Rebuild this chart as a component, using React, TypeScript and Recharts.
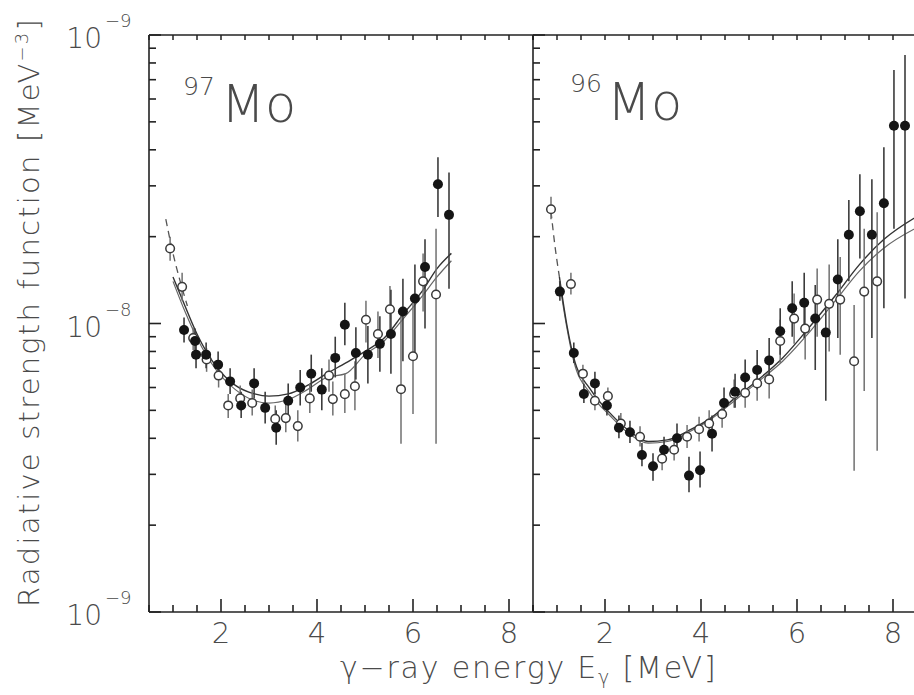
import { ComposedChart, ErrorBar, Line, Scatter, XAxis, YAxis } from "recharts";

const FONT = '"DejaVu Sans", sans-serif';
const INK = "#222";
const TEXT = "#4a4a4a";
const BAR = "#707070";

// rows: [E (MeV), f (MeV^-3), lower, upper]
const mo97Filled: [number, number, number, number][] = [
  [1.23, 9.5e-9, 8.6e-9, 1.05e-8],
  [1.46, 8.7e-9, 7.9e-9, 9.6e-9],
  [1.48, 7.8e-9, 7.0e-9, 8.6e-9],
  [1.69, 7.8e-9, 7.0e-9, 8.6e-9],
  [1.94, 7.2e-9, 6.5e-9, 8.0e-9],
  [2.19, 6.3e-9, 5.7e-9, 7.0e-9],
  [2.42, 5.2e-9, 4.7e-9, 5.8e-9],
  [2.69, 6.2e-9, 5.5e-9, 7.0e-9],
  [2.92, 5.1e-9, 4.5e-9, 5.8e-9],
  [3.15, 4.35e-9, 3.8e-9, 5.0e-9],
  [3.4, 5.4e-9, 4.7e-9, 6.2e-9],
  [3.65, 6.0e-9, 5.2e-9, 6.9e-9],
  [3.88, 6.7e-9, 5.8e-9, 7.8e-9],
  [4.1, 5.9e-9, 5.0e-9, 7.0e-9],
  [4.38, 7.6e-9, 6.5e-9, 9.0e-9],
  [4.58, 9.9e-9, 8.4e-9, 1.18e-8],
  [4.81, 7.9e-9, 6.4e-9, 9.7e-9],
  [5.06, 7.8e-9, 6.2e-9, 9.8e-9],
  [5.31, 8.5e-9, 6.8e-9, 1.06e-8],
  [5.54, 9.2e-9, 6.7e-9, 1.31e-8],
  [5.79, 1.1e-8, 7.4e-9, 1.43e-8],
  [6.04, 1.22e-8, 7.8e-9, 1.6e-8],
  [6.25, 1.57e-8, 9.6e-9, 1.96e-8],
  [6.52, 3.04e-8, 2.34e-8, 3.77e-8],
  [6.75, 2.38e-8, 1.32e-8, 3.34e-8],
];

const mo97Open: [number, number, number, number][] = [
  [0.94, 1.82e-8, 1.65e-8, 2.0e-8],
  [1.19, 1.34e-8, 1.2e-8, 1.5e-8],
  [1.42, 8.9e-9, 8.1e-9, 9.7e-9],
  [1.7, 7.5e-9, 6.8e-9, 8.2e-9],
  [1.95, 6.6e-9, 6.0e-9, 7.2e-9],
  [2.15, 5.2e-9, 4.7e-9, 5.7e-9],
  [2.4, 5.5e-9, 5.0e-9, 6.1e-9],
  [2.65, 5.3e-9, 4.8e-9, 5.9e-9],
  [3.13, 4.67e-9, 4.2e-9, 5.2e-9],
  [3.35, 4.7e-9, 4.2e-9, 5.3e-9],
  [3.6, 4.41e-9, 3.9e-9, 5.0e-9],
  [3.85, 5.5e-9, 4.9e-9, 6.2e-9],
  [4.25, 6.6e-9, 5.8e-9, 7.5e-9],
  [4.33, 5.47e-9, 4.8e-9, 6.3e-9],
  [4.58, 5.69e-9, 4.9e-9, 6.7e-9],
  [4.79, 6.06e-9, 5.0e-9, 7.4e-9],
  [5.02, 1.03e-8, 8.6e-9, 1.2e-8],
  [5.27, 9.2e-9, 7.6e-9, 1.1e-8],
  [5.52, 1.12e-8, 9.0e-9, 1.35e-8],
  [5.75, 5.92e-9, 3.83e-9, 1.07e-8],
  [6.0, 7.7e-9, 4.86e-9, 1.22e-8],
  [6.21, 1.4e-8, 1.1e-8, 1.75e-8],
  [6.48, 1.26e-8, 3.83e-9, 2.13e-8],
];

const mo96Filled: [number, number, number, number][] = [
  [1.06, 1.29e-8, 1.2e-8, 1.4e-8],
  [1.35, 7.9e-9, 7.3e-9, 8.6e-9],
  [1.56, 5.7e-9, 5.3e-9, 6.2e-9],
  [1.79, 6.2e-9, 5.7e-9, 6.8e-9],
  [2.04, 5.2e-9, 4.8e-9, 5.7e-9],
  [2.29, 4.35e-9, 4.0e-9, 4.8e-9],
  [2.52, 4.2e-9, 3.85e-9, 4.6e-9],
  [2.77, 3.5e-9, 3.2e-9, 3.85e-9],
  [3.0, 3.2e-9, 2.85e-9, 3.55e-9],
  [3.23, 3.65e-9, 3.3e-9, 4.05e-9],
  [3.5, 4.0e-9, 3.6e-9, 4.5e-9],
  [3.75, 2.97e-9, 2.6e-9, 3.45e-9],
  [3.98, 3.1e-9, 2.7e-9, 3.6e-9],
  [4.23, 4.15e-9, 3.6e-9, 4.8e-9],
  [4.48, 5.3e-9, 4.7e-9, 6.0e-9],
  [4.71, 5.8e-9, 5.1e-9, 6.7e-9],
  [4.92, 6.5e-9, 5.6e-9, 7.5e-9],
  [5.17, 6.9e-9, 5.9e-9, 8.1e-9],
  [5.42, 7.45e-9, 6.3e-9, 8.9e-9],
  [5.65, 9.4e-9, 7.8e-9, 1.13e-8],
  [5.9, 1.13e-8, 9.0e-9, 1.4e-8],
  [6.15, 1.18e-8, 8.9e-9, 1.5e-8],
  [6.38, 1.04e-8, 6.9e-9, 1.36e-8],
  [6.6, 9.3e-9, 5.4e-9, 1.19e-8],
  [6.85, 1.42e-8, 8.9e-9, 1.96e-8],
  [7.08, 2.03e-8, 1.4e-8, 2.68e-8],
  [7.31, 2.45e-8, 1.68e-8, 3.29e-8],
  [7.56, 2.03e-8, 8.9e-9, 3.16e-8],
  [7.81, 2.61e-8, 1.13e-8, 4.08e-8],
  [8.02, 4.85e-8, 2.13e-8, 7.57e-8],
  [8.25, 4.85e-8, 1.22e-8, 8.53e-8],
];

const mo96Open: [number, number, number, number][] = [
  [0.875, 2.49e-8, 2.3e-8, 2.75e-8],
  [1.29, 1.37e-8, 1.26e-8, 1.5e-8],
  [1.54, 6.7e-9, 6.2e-9, 7.2e-9],
  [1.79, 5.4e-9, 5.0e-9, 5.8e-9],
  [2.06, 5.6e-9, 5.2e-9, 6.0e-9],
  [2.33, 4.5e-9, 4.2e-9, 4.9e-9],
  [2.73, 4.05e-9, 3.75e-9, 4.4e-9],
  [3.19, 3.4e-9, 3.1e-9, 3.75e-9],
  [3.44, 3.65e-9, 3.35e-9, 4.0e-9],
  [3.71, 4.05e-9, 3.7e-9, 4.45e-9],
  [3.96, 4.3e-9, 3.9e-9, 4.75e-9],
  [4.17, 4.5e-9, 4.05e-9, 5.0e-9],
  [4.44, 4.85e-9, 4.35e-9, 5.4e-9],
  [4.69, 5.7e-9, 5.1e-9, 6.4e-9],
  [4.92, 5.75e-9, 5.1e-9, 6.5e-9],
  [5.17, 6.2e-9, 5.4e-9, 7.1e-9],
  [5.42, 6.4e-9, 5.5e-9, 7.5e-9],
  [5.65, 8.7e-9, 7.3e-9, 1.03e-8],
  [5.94, 1.04e-8, 8.5e-9, 1.27e-8],
  [6.17, 9.6e-9, 7.5e-9, 1.2e-8],
  [6.42, 1.21e-8, 9.0e-9, 1.55e-8],
  [6.67, 1.17e-8, 8.0e-9, 1.6e-8],
  [6.9, 1.21e-8, 7.8e-9, 1.7e-8],
  [7.19, 7.4e-9, 3.09e-9, 1.16e-8],
  [7.4, 1.29e-8, 5.83e-9, 2.13e-8],
  [7.67, 1.4e-8, 3.62e-9, 2.43e-8],
];

// model curves
const mo97FitX = [1.0, 1.25, 1.5, 1.9, 2.3, 2.7, 3.0, 3.4, 3.8, 4.2, 4.6, 5.0, 5.4, 5.8, 6.2, 6.5, 6.8];
const mo97FitA = [1.45e-8, 1.15e-8, 9.2e-9, 7.1e-9, 6.1e-9, 5.7e-9, 5.6e-9, 5.7e-9, 6.1e-9, 6.7e-9, 7.3e-9, 8.0e-9, 8.9e-9, 1.08e-8, 1.3e-8, 1.55e-8, 1.75e-8];
const mo97FitB = [1.4e-8, 1.1e-8, 8.9e-9, 6.9e-9, 5.9e-9, 5.4e-9, 5.3e-9, 5.45e-9, 5.9e-9, 6.5e-9, 6.7e-9, 7.8e-9, 8.7e-9, 1.04e-8, 1.25e-8, 1.45e-8, 1.65e-8];
const mo97DashX = [0.85, 1.0, 1.15, 1.3];
const mo97DashY = [2.3e-8, 1.75e-8, 1.4e-8, 1.15e-8];

const mo96FitX = [1.05, 1.2, 1.35, 1.7, 2.1, 2.5, 2.9, 3.3, 3.8, 4.2, 4.7, 5.2, 5.7, 6.3, 6.8, 7.3, 7.8, 8.5];
const mo96FitA = [1.45e-8, 1.0e-8, 7.6e-9, 5.9e-9, 4.9e-9, 4.25e-9, 3.9e-9, 3.95e-9, 4.3e-9, 4.7e-9, 5.5e-9, 6.4e-9, 7.6e-9, 9.9e-9, 1.25e-8, 1.6e-8, 1.95e-8, 2.35e-8];
const mo96FitB = [1.4e-8, 9.8e-9, 7.4e-9, 5.7e-9, 4.8e-9, 4.15e-9, 3.85e-9, 3.9e-9, 4.25e-9, 4.65e-9, 5.4e-9, 6.3e-9, 7.4e-9, 9.5e-9, 1.2e-8, 1.52e-8, 1.82e-8, 2.15e-8];
const mo96DashX = [0.875, 0.95, 1.05];
const mo96DashY = [2.45e-8, 1.9e-8, 1.45e-8];

// axes
const xTicks = [0.5, 1, 1.5, 2, 2.5, 3, 3.5, 4, 4.5, 5, 5.5, 6, 6.5, 7, 7.5, 8, 8.5];
const xLabelTicks = [2, 4, 6, 8];
const yTicks = [
  1e-9, 2e-9, 3e-9, 4e-9, 5e-9, 6e-9, 7e-9, 8e-9, 9e-9,
  1e-8, 2e-8, 3e-8, 4e-8, 5e-8, 6e-8, 7e-8, 8e-8, 9e-8, 1e-7,
];
const yDecades = [1e-9, 1e-8, 1e-7];
const yDecadeLabels = ["−9", "−8", "−9"];

const toPoints = (rows: [number, number, number, number][]) =>
  rows.map(([x, y, lo, hi]) => ({ x, y, err: [y - lo, hi - y] }));
const toLine = (xs: number[], ys: number[]) => xs.map((x, i) => ({ x, y: ys[i] }));

function YTick(props: any) {
  const { x, y, payload, labelled } = props;
  const v = payload.value;
  const di = yDecades.findIndex((d) => Math.abs(d - v) / d < 1e-6);
  const len = di >= 0 ? 12 : 7;
  return (
    <g>
      <path d={`M${x},${y}h${len}`} stroke={INK} strokeWidth={1.6} fill="none" />
      {labelled && di >= 0 && (
        <g fill={TEXT} fontFamily={FONT} fontWeight={200}>
          <text x={x - 47} y={y + 13} textAnchor="end" fontSize={28}>10</text>
          <text x={x - 44} y={y - 8} fontSize={18}>{yDecadeLabels[di]}</text>
        </g>
      )}
    </g>
  );
}

function XTick(props: any) {
  const { x, y, payload, top } = props;
  const v = payload.value;
  const major = xLabelTicks.includes(v);
  if (top) {
    return <path d={`M${x},${y}v5`} stroke={INK} strokeWidth={1.5} fill="none" />;
  }
  return (
    <g>
      <path d={`M${x},${y}v${major ? -13 : -7}`} stroke={INK} strokeWidth={1.6} fill="none" />
      {major && (
        <text x={x} y={y + 31} textAnchor="middle" fontSize={29} fontFamily={FONT} fontWeight={200} fill={TEXT}>
          {v}
        </text>
      )}
    </g>
  );
}

const FilledDot = (p: any) => <circle cx={p.cx} cy={p.cy} r={5} fill="#151515" />;
const OpenDot = (p: any) => (
  <circle cx={p.cx} cy={p.cy} r={4.3} fill="#fff" stroke="#3a3a3a" strokeWidth={1.5} />
);

function Panel(props: any) {
  const { width, margin, filled, open, fitA, fitB, dash, labelled } = props;
  return (
    <ComposedChart width={width} height={695} margin={margin}>
      <XAxis
        xAxisId="b"
        type="number"
        dataKey="x"
        domain={[0.5, 8.5]}
        ticks={xTicks}
        interval={0}
        allowDataOverflow
        height={40}
        tickSize={0}
        tickMargin={0}
        tickLine={false}
        axisLine={{ stroke: INK, strokeWidth: 1.6 }}
        tick={(p: any) => <XTick {...p} />}
      />
      <XAxis
        xAxisId="t"
        orientation="top"
        type="number"
        dataKey="x"
        domain={[0.5, 8.5]}
        ticks={xTicks}
        interval={0}
        allowDataOverflow
        height={1}
        tickSize={0}
        tickMargin={0}
        tickLine={false}
        axisLine={{ stroke: INK, strokeWidth: 1.4 }}
        tick={(p: any) => <XTick {...p} top />}
      />
      <YAxis
        type="number"
        dataKey="y"
        scale="log"
        domain={[1e-9, 1e-7]}
        ticks={yTicks}
        interval={0}
        allowDataOverflow
        width={60}
        tickSize={0}
        tickMargin={0}
        tickLine={false}
        axisLine={{ stroke: INK, strokeWidth: 1.6 }}
        tick={(p: any) => <YTick {...p} labelled={labelled} />}
      />
      <Line xAxisId="b" data={dash} dataKey="y" type="monotone" dot={false} stroke="#555" strokeWidth={1.3} strokeDasharray="7 5" isAnimationActive={false} />
      <Line xAxisId="b" data={fitB} dataKey="y" type="monotone" dot={false} stroke="#666" strokeWidth={1.2} isAnimationActive={false} />
      <Line xAxisId="b" data={fitA} dataKey="y" type="monotone" dot={false} stroke="#333" strokeWidth={1.4} isAnimationActive={false} />
      <Scatter xAxisId="b" data={open} dataKey="y" shape={OpenDot} isAnimationActive={false}>
        <ErrorBar dataKey="err" direction="y" width={0} stroke={BAR} strokeWidth={1.5} isAnimationActive={false} />
      </Scatter>
      <Scatter xAxisId="b" data={filled} dataKey="y" shape={FilledDot} isAnimationActive={false}>
        <ErrorBar dataKey="err" direction="y" width={0} stroke="#3c3c3c" strokeWidth={1.6} isAnimationActive={false} />
      </Scatter>
    </ComposedChart>
  );
}

export default function App() {
  return (
    <div style={{ position: "fixed", left: 0, top: 0, width: 914, height: 695, overflow: "hidden", background: "#fff" }}>
      <div style={{ position: "absolute", left: 0, top: 0 }}>
        <Panel
          width={540}
          margin={{ top: 34, right: 7, bottom: 43, left: 89 }}
          filled={toPoints(mo97Filled)}
          open={toPoints(mo97Open)}
          fitA={toLine(mo97FitX, mo97FitA)}
          fitB={toLine(mo97FitX, mo97FitB)}
          dash={toLine(mo97DashX, mo97DashY)}
          labelled
        />
      </div>
      <div style={{ position: "absolute", left: 473, top: 0 }}>
        <Panel
          width={449}
          margin={{ top: 34, right: 5, bottom: 43, left: 0 }}
          filled={toPoints(mo96Filled)}
          open={toPoints(mo96Open)}
          fitA={toLine(mo96FitX, mo96FitA)}
          fitB={toLine(mo96FitX, mo96FitB)}
          dash={toLine(mo96DashX, mo96DashY)}
          labelled={false}
        />
      </div>
      <svg width={914} height={695} style={{ position: "absolute", left: 0, top: 0, pointerEvents: "none" }}>
        <g fill={TEXT} fontFamily={FONT} fontWeight={200}>
          <text transform="translate(39,312) rotate(-90)" textAnchor="middle" fontSize={29} letterSpacing={2.2}>
            Radiative strength function [MeV<tspan dy={-11} fontSize={18}>−3</tspan><tspan dy={11}>]</tspan>
          </text>
          <text x={340} y={678} fontSize={30} letterSpacing={1.8}>
            γ−ray energy E<tspan dy={6} fontSize={19}>γ</tspan><tspan dy={-6}> [MeV]</tspan>
          </text>
          <text x={183} y={95} fontSize={25}>97</text>
          <text x={221} y={122} fontSize={51}>Mo</text>
          <text x={570} y={92} fontSize={25}>96</text>
          <text x={607} y={120} fontSize={51}>Mo</text>
        </g>
      </svg>
    </div>
  );
}
